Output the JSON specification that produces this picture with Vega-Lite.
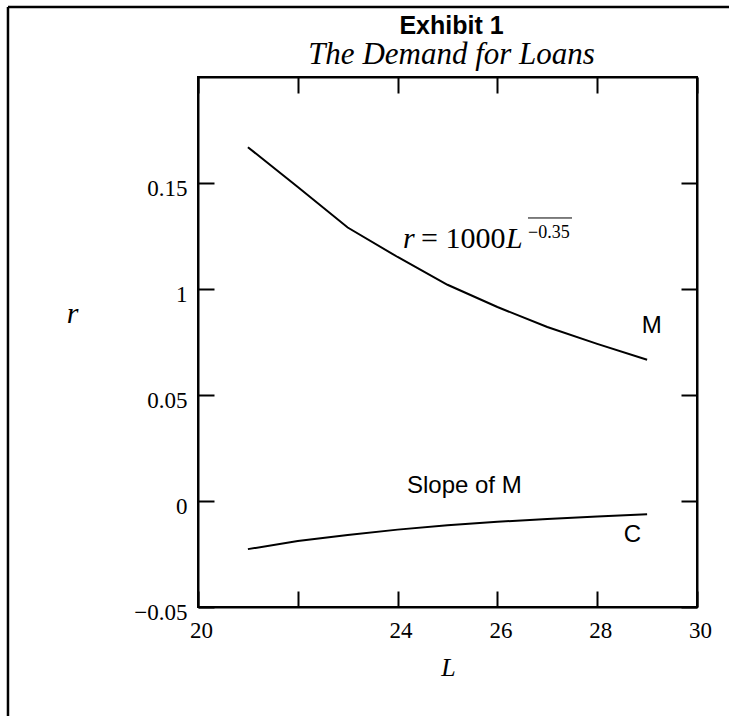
{
  "$schema": "https://vega.github.io/schema/vega-lite/v6.json",
  "autosize": "none",
  "width": 499,
  "height": 530,
  "padding": {"left": 198, "top": 77, "right": 32, "bottom": 109},
  "background": "white",
  "title": {
    "text": "Exhibit 1",
    "subtitle": "The Demand for Loans",
    "anchor": "middle",
    "frame": "group",
    "font": "Liberation Sans",
    "fontSize": 25,
    "fontWeight": "bold",
    "color": "black",
    "subtitleFont": "Liberation Serif",
    "subtitleFontSize": 31,
    "subtitleFontStyle": "italic",
    "subtitleColor": "black",
    "subtitlePadding": 1,
    "offset": 9,
    "dx": 4,
    "dy": 73
  },
  "datasets": {
    "curves": [
      {"L": 21, "r": 0.1669, "series": "M"},
      {"L": 22, "r": 0.1481, "series": "M"},
      {"L": 23, "r": 0.1290, "series": "M"},
      {"L": 24, "r": 0.1151, "series": "M"},
      {"L": 25, "r": 0.1020, "series": "M"},
      {"L": 26, "r": 0.0915, "series": "M"},
      {"L": 27, "r": 0.0821, "series": "M"},
      {"L": 28, "r": 0.0741, "series": "M"},
      {"L": 29, "r": 0.0666, "series": "M"},
      {"L": 21, "r": -0.0227, "series": "C"},
      {"L": 22, "r": -0.0189, "series": "C"},
      {"L": 23, "r": -0.0160, "series": "C"},
      {"L": 24, "r": -0.0135, "series": "C"},
      {"L": 25, "r": -0.0114, "series": "C"},
      {"L": 26, "r": -0.0098, "series": "C"},
      {"L": 27, "r": -0.0085, "series": "C"},
      {"L": 28, "r": -0.0073, "series": "C"},
      {"L": 29, "r": -0.0062, "series": "C"}
    ],
    "one": [{}]
  },
  "config": {
    "view": {"stroke": "black", "strokeWidth": 2},
    "axis": {
      "grid": false,
      "domainColor": "black",
      "domainWidth": 2,
      "tickColor": "black",
      "tickWidth": 2,
      "tickSize": -16,
      "labelFont": "Liberation Serif",
      "labelFontSize": 23,
      "labelColor": "black",
      "titleColor": "black"
    }
  },
  "resolve": {"axis": {"x": "independent", "y": "independent"}},
  "layer": [
    {
      "data": {"name": "curves"},
      "transform": [{"filter": "datum.series == 'M'"}],
      "mark": {"type": "line", "color": "black", "strokeWidth": 2},
      "encoding": {
        "x": {
          "field": "L", "type": "quantitative",
          "scale": {"domain": [20, 30], "nice": false, "zero": false},
          "axis": {
            "orient": "bottom",
            "values": [20, 22, 24, 26, 28, 30],
            "labelExpr": "datum.value == 22 ? '' : datum.label",
            "labelPadding": 28,
            "labelOffset": 3,
            "labelFlush": false,
            "title": "L",
            "titleFont": "Liberation Serif",
            "titleFontStyle": "italic",
            "titleFontWeight": "normal",
            "titleFontSize": 26,
            "titleX": 250,
            "titleY": 68,
            "titleBaseline": "alphabetic",
            "titleAlign": "center"
          }
        },
        "y": {
          "field": "r", "type": "quantitative",
          "scale": {"domain": [-0.05, 0.2], "nice": false, "zero": false},
          "axis": {
            "orient": "left",
            "values": [-0.05, 0, 0.05, 0.1, 0.15],
            "format": "~g",
            "labelExpr": "datum.value == 0.1 ? '1' : datum.label",
            "labelPadding": 27,
            "labelOffset": 5,
            "labelFlush": false,
            "title": "r",
            "titleFont": "Liberation Serif",
            "titleFontStyle": "italic",
            "titleFontWeight": "normal",
            "titleFontSize": 30,
            "titleAngle": 0,
            "titleX": -126,
            "titleY": 245,
            "titleBaseline": "alphabetic",
            "titleAlign": "center"
          }
        }
      }
    },
    {
      "data": {"name": "curves"},
      "transform": [{"filter": "datum.series == 'C'"}],
      "mark": {"type": "line", "color": "black", "strokeWidth": 2},
      "encoding": {
        "x": {
          "field": "L", "type": "quantitative",
          "scale": {"domain": [20, 30], "nice": false, "zero": false},
          "axis": {"orient": "top", "values": [20, 22, 24, 26, 28, 30], "labels": false, "title": null}
        },
        "y": {
          "field": "r", "type": "quantitative",
          "scale": {"domain": [-0.05, 0.2], "nice": false, "zero": false},
          "axis": {"orient": "right", "values": [-0.05, 0, 0.05, 0.1, 0.15], "labels": false, "title": null}
        }
      }
    },
    {
      "data": {"name": "one"},
      "mark": {"type": "text", "text": "r", "font": "Liberation Serif", "fontStyle": "italic", "fontSize": 30, "align": "left", "baseline": "alphabetic", "color": "black"},
      "encoding": {
        "x": {"datum": 24.108, "type": "quantitative", "axis": null},
        "y": {"datum": 0.1192, "type": "quantitative", "axis": null}
      }
    },
    {
      "data": {"name": "one"},
      "mark": {"type": "text", "text": "= 1000", "font": "Liberation Serif", "fontSize": 30, "align": "left", "baseline": "alphabetic", "color": "black"},
      "encoding": {
        "x": {"datum": 24.469, "type": "quantitative", "axis": null},
        "y": {"datum": 0.1192, "type": "quantitative", "axis": null}
      }
    },
    {
      "data": {"name": "one"},
      "mark": {"type": "text", "text": "L", "font": "Liberation Serif", "fontStyle": "italic", "fontSize": 30, "align": "left", "baseline": "alphabetic", "color": "black"},
      "encoding": {
        "x": {"datum": 26.172, "type": "quantitative", "axis": null},
        "y": {"datum": 0.1192, "type": "quantitative", "axis": null}
      }
    },
    {
      "data": {"name": "one"},
      "mark": {"type": "text", "text": "−0.35", "font": "Liberation Serif", "fontSize": 18, "align": "left", "baseline": "alphabetic", "color": "black"},
      "encoding": {
        "x": {"datum": 26.613, "type": "quantitative", "axis": null},
        "y": {"datum": 0.1241, "type": "quantitative", "axis": null}
      }
    },
    {
      "data": {"name": "one"},
      "mark": {"type": "rule", "color": "black", "strokeWidth": 1},
      "encoding": {
        "x": {"datum": 26.613, "type": "quantitative", "axis": null},
        "x2": {"datum": 27.495},
        "y": {"datum": 0.1335, "type": "quantitative", "axis": null}
      }
    },
    {
      "data": {"name": "one"},
      "mark": {"type": "text", "text": "M", "font": "Liberation Sans", "fontSize": 24, "align": "center", "baseline": "alphabetic", "color": "black"},
      "encoding": {
        "x": {"datum": 29.092, "type": "quantitative", "axis": null},
        "y": {"datum": 0.0791, "type": "quantitative", "axis": null}
      }
    },
    {
      "data": {"name": "one"},
      "mark": {"type": "text", "text": "Slope of M", "font": "Liberation Sans", "fontSize": 24, "align": "right", "baseline": "alphabetic", "color": "black"},
      "encoding": {
        "x": {"datum": 26.487, "type": "quantitative", "axis": null},
        "y": {"datum": 0.00363, "type": "quantitative", "axis": null}
      }
    },
    {
      "data": {"name": "one"},
      "mark": {"type": "text", "text": "C", "font": "Liberation Sans", "fontSize": 24, "align": "center", "baseline": "alphabetic", "color": "black"},
      "encoding": {
        "x": {"datum": 28.708, "type": "quantitative", "axis": null},
        "y": {"datum": -0.0192, "type": "quantitative", "axis": null}
      }
    },
    {
      "data": {"name": "one"},
      "mark": {"type": "rule", "color": "black", "strokeWidth": 2.5},
      "encoding": {
        "x": {"datum": 16.192, "type": "quantitative", "axis": null},
        "y": {"datum": 0.2330, "type": "quantitative", "axis": null},
        "y2": {"datum": -0.1033}
      }
    },
    {
      "data": {"name": "one"},
      "mark": {"type": "rule", "color": "black", "strokeWidth": 2.5},
      "encoding": {
        "x": {"datum": 16.192, "type": "quantitative", "axis": null},
        "x2": {"datum": 30.762},
        "y": {"datum": 0.2330, "type": "quantitative", "axis": null}
      }
    }
  ]
}
